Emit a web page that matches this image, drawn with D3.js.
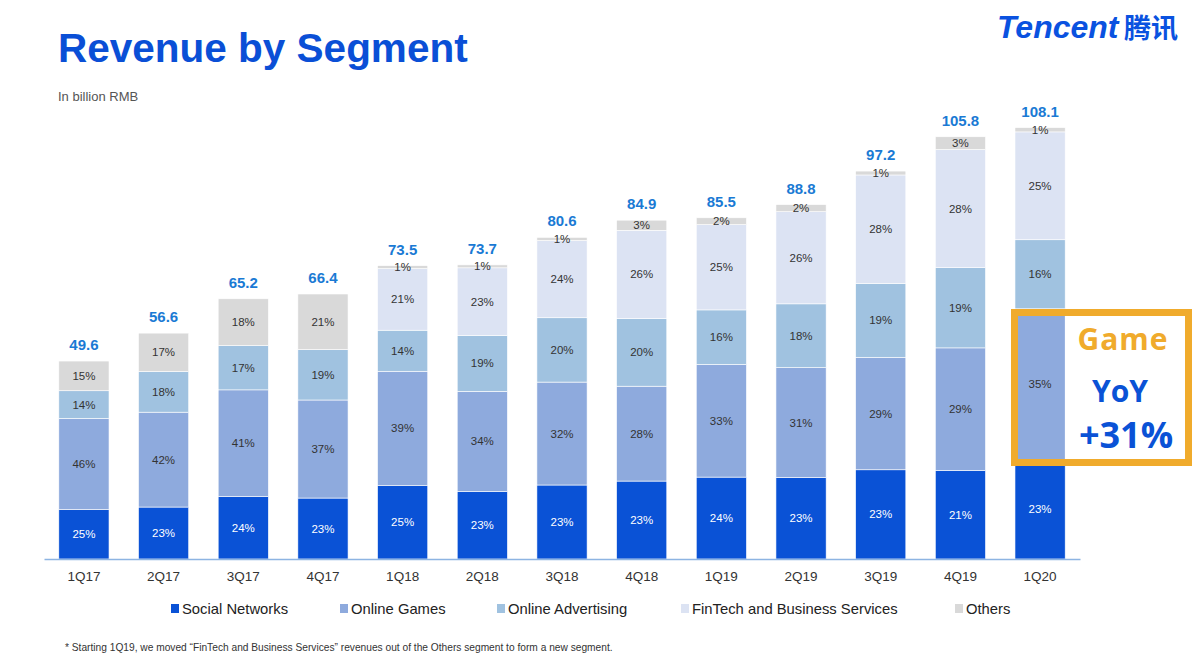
<!DOCTYPE html>
<html><head><meta charset="utf-8">
<script src="https://cdn.jsdelivr.net/npm/d3@7"></script>
<style>
html,body{margin:0;padding:0;background:#fff;}
svg{display:block;font-family:"Liberation Sans",Arial,sans-serif;}
</style></head>
<body><svg id="c" width="1200" height="658"></svg>
<script>
const quarters = ["1Q17","2Q17","3Q17","4Q17","1Q18","2Q18","3Q18","4Q18","1Q19","2Q19","3Q19","4Q19","1Q20"];
const totals   = [49.6,56.6,65.2,66.4,73.5,73.7,80.6,84.9,85.5,88.8,97.2,105.8,108.1];
const socialPct  = [25,23,24,23,25,23,23,23,24,23,23,21,23];
const gamesPct   = [46,42,41,37,39,34,32,28,33,31,29,29,35];
const adsPct     = [14,18,17,19,14,19,20,20,16,18,19,19,16];
const fintechPct = [0,0,0,0,21,23,24,26,25,26,28,28,25];
const othersPct  = [15,17,18,21,1,1,1,3,2,2,1,3,1];
const seriesNames = ["Social Networks","Online Games","Online Advertising","FinTech and Business Services","Others"];
const seriesColors = ["#0a52d6","#8eaadd","#a0c2e0","#dce3f3","#d9d9d9"];

const svg = d3.select("#c");
const pcts = [socialPct,gamesPct,adsPct,fintechPct,othersPct];
const keys = ["s0","s1","s2","s3","s4"];
const rows = quarters.map((q,i)=>{
  const r = {q, total: totals[i]};
  const sum = pcts.reduce((a,p)=>a+p[i],0);
  keys.forEach((k,j)=>{ r[k] = totals[i]*pcts[j][i]/sum; r[k+"p"] = pcts[j][i]; });
  return r;
});
const stacked = d3.stack().keys(keys)(rows);

const x = d3.scaleBand().domain(quarters).range([44,1080]).paddingInner(0.37).paddingOuter(0.186);
const y = d3.scaleLinear().domain([0,109.5]).range([559,122]);

// title
svg.append("text").attr("x",58).attr("y",62).attr("font-size",40.5).attr("font-weight","bold")
  .attr("fill","#0a4fd6").text("Revenue by Segment");
svg.append("text").attr("x",58).attr("y",101).attr("font-size",13).attr("fill","#555").text("In billion RMB");
// logo
svg.append("text").attr("x",997).attr("y",38).attr("font-size",32).attr("font-weight","bold").attr("font-style","italic")
  .attr("fill","#0a52e0").attr("letter-spacing",0).text("Tencent");
svg.append("text").attr("x",1124).attr("y",38).attr("font-size",27).attr("font-weight","bold")
  .attr("font-family","'Noto Sans CJK SC',sans-serif").attr("fill","#0a52e0").text("腾讯");

// bars
const g = svg.append("g");
stacked.forEach((s,j)=>{
  g.selectAll(null).data(s).join("rect")
    .attr("x",d=>x(d.data.q)).attr("width",x.bandwidth())
    .attr("y",d=>y(d[1])).attr("height",d=>Math.max(0,y(d[0])-y(d[1])))
    .attr("fill",seriesColors[j]).attr("stroke","#fff").attr("stroke-width",0.6);
});
stacked.forEach((s,j)=>{
  g.selectAll(null).data(s.filter(d=>d.data[keys[j]+"p"]>0)).join("text")
    .attr("x",d=>x(d.data.q)+x.bandwidth()/2).attr("y",d=>(y(d[0])+y(d[1]))/2)
    .attr("dy","0.35em").attr("text-anchor","middle").attr("font-size",11.5)
    .attr("fill", j===0 ? "#fff" : "#333")
    .text(d=>d.data[keys[j]+"p"]+"%");
});
// totals
g.selectAll(null).data(rows).join("text")
  .attr("x",d=>x(d.q)+x.bandwidth()/2).attr("y",d=>y(d.total)-11)
  .attr("text-anchor","middle").attr("font-size",15).attr("font-weight","bold")
  .attr("fill","#1a7ad4").text(d=>d.total.toFixed(1));

// axis
const ax = svg.append("g").attr("transform","translate(0,559)")
  .call(d3.axisBottom(x).tickSize(0).tickPadding(12));
ax.select(".domain").attr("stroke","#8db4e2").attr("stroke-width",1.5);
ax.selectAll("text").attr("font-size",13.5).attr("fill","#333").attr("font-family","'Liberation Sans',Arial,sans-serif");

// legend
const legX = [171,340,497,681,955];
const lg = svg.append("g");
seriesNames.forEach((n,i)=>{
  lg.append("rect").attr("x",legX[i]).attr("y",604).attr("width",8).attr("height",9).attr("fill",seriesColors[i]);
  lg.append("text").attr("x",legX[i]+11).attr("y",614).attr("font-size",14.8).attr("fill","#222").text(n);
});

// footnote
svg.append("text").attr("x",65).attr("y",651).attr("font-size",10.2).attr("fill","#333")
  .text("* Starting 1Q19, we moved \u201cFinTech and Business Services\u201d revenues out of the Others segment to form a new segment.");

// game callout
svg.append("rect").attr("x",x("1Q20")+x.bandwidth()).attr("y",313).attr("width",1188-(x("1Q20")+x.bandwidth())).attr("height",149).attr("fill","#fff");
svg.append("rect").attr("x",1014.5).attr("y",312.5).attr("width",174).attr("height",150)
  .attr("fill","none").attr("stroke","#f0ab2c").attr("stroke-width",7);
svg.append("text").attr("x",1123).attr("y",350).attr("text-anchor","middle").attr("font-size",30).attr("font-weight","bold")
  .attr("letter-spacing",1).attr("fill","#f0ab2c").attr("font-family","'Open Sans',sans-serif").text("Game");
svg.append("text").attr("x",1120).attr("y",402).attr("text-anchor","middle").attr("font-size",30).attr("font-weight","bold")
  .attr("fill","#0a52d6").attr("font-family","'Open Sans',sans-serif").text("YoY");
svg.append("text").attr("x",1126).attr("y",448).attr("text-anchor","middle").attr("font-size",36).attr("font-weight","bold")
  .attr("fill","#0a52d6").attr("font-family","'Open Sans',sans-serif").text("+31%");
</script></body></html>
